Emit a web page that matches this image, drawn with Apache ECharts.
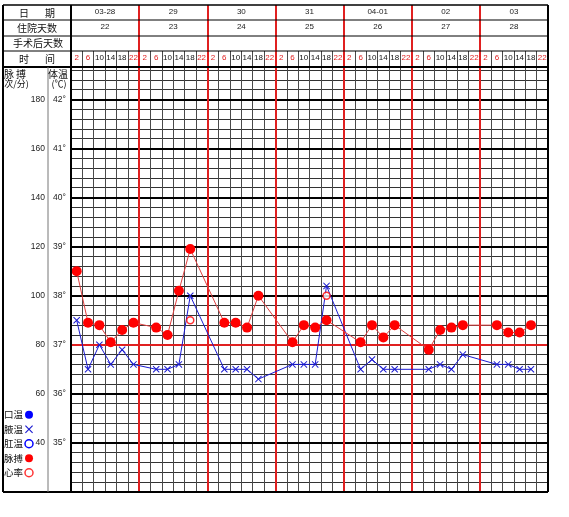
<!DOCTYPE html>
<html><head><meta charset="utf-8">
<script src="https://cdn.jsdelivr.net/npm/echarts@6/dist/echarts.min.js"></script>
<style>html,body{margin:0;padding:0;background:#fff}#c{width:569px;height:517px}</style>
</head><body><div id="c"></div>
<script>
// ---- data ----
const dates = ['03-28','29','30','31','04-01','02','03'];
const hospDays = ['22','23','24','25','26','27','28'];
const postOpDays = ['','','','','','',''];
const times = ['2','6','10','14','18','22'];
const pulse = [110,89,88,81,86,89, null,87,84,102,119,null, null,89,89,87,100,null, null,81,88,87,90,null, null,81,88,83,88,null, null,78,86,87,88,null, null,88,85,85,88,null];
const axillary = [37.5,36.5,37.0,36.6,36.9,36.6, null,36.5,36.5,36.6,38.0,null, null,36.5,36.5,36.5,36.3,null, null,36.6,36.6,36.6,38.2,null, null,36.5,36.7,36.5,36.5,null, null,36.5,36.6,36.5,36.8,null, null,36.6,36.6,36.5,36.5,null];
const heartRate = [null,null,null,null,null,null, null,null,null,null,90,null, null,null,null,null,null,null, null,null,null,null,100,null, null,null,null,null,null,null, null,null,null,null,null,null, null,null,null,null,null,null];
const oral = [];
const rectal = [];
const tempMin = 34, tempMax = 42.66;
const feverLine = 37;

// ---- build ----
const slots = [];
dates.forEach((d, i) => times.forEach(t => slots.push(i + '|' + t)));
const pulseMin = (tempMin - 33) * 20, pulseMax = (tempMax - 33) * 20;
const L = 71, R = 21;
const CJK = '"Noto Sans CJK SC", sans-serif';
const NUM = '"Liberation Sans", Arial, sans-serif';
const BLUE = '#1a1ad0', RED = '#ff0000';
const xPath = 'path://M0,1L1,0L5,4L9,0L10,1L6,5L10,9L9,10L5,6L1,10L0,9L4,5Z';

function hidden(extra) {
  return Object.assign({axisLine:{show:false}, axisTick:{show:false}, axisLabel:{show:false}, splitLine:{show:false}}, extra);
}
function grid(o){ return Object.assign({left: L, right: R, outerBoundsMode:'none', containLabel:false}, o); }

const chart = echarts.init(document.getElementById('c'));
const option = {
  animation: false,
  backgroundColor: '#fff',
  grid: [
    grid({top: 67, bottom: 25}),       // 0 chart
    grid({top: 5, height: 62}),        // 1 header (red day lines)
    grid({top: 5, height: 15}),        // 2 dates row
    grid({top: 20, height: 16}),       // 3 hospital days row
    grid({top: 51, height: 16})        // 4 times row
  ],
  xAxis: [
    hidden({type:'category', gridIndex:0, data: slots, boundaryGap:true,
      splitLine:{show:true, interval:0, lineStyle:{color:'#4a4a4a', width:1}}}),
    hidden({type:'category', gridIndex:0, data: dates, boundaryGap:true, z:3,
      splitLine:{show:true, interval:0, lineStyle:{color:'#e02020', width:2}}}),
    hidden({type:'category', gridIndex:1, data: dates, boundaryGap:true, z:3,
      splitLine:{show:true, interval:0, lineStyle:{color:'#e02020', width:2}}}),
    hidden({type:'category', gridIndex:2, data: dates, position:'top', boundaryGap:true,
      axisLabel:{show:true, inside:true, interval:0, margin:3, fontSize:8, fontFamily:NUM, color:'#222'}}),
    hidden({type:'category', gridIndex:3, data: hospDays, position:'top', boundaryGap:true,
      axisLabel:{show:true, inside:true, interval:0, margin:3, fontSize:8, fontFamily:NUM, color:'#222'}}),
    hidden({type:'category', gridIndex:4, data: slots, position:'top', boundaryGap:true,
      splitLine:{show:true, interval:0, lineStyle:{color:'#4a4a4a', width:1}},
      axisLabel:{show:true, inside:true, interval:0, margin:3, fontSize:8, fontFamily:NUM,
        formatter: v => { const t = v.split('|')[1]; return (t==='2'||t==='6'||t==='22') ? '{r|'+t+'}' : '{b|'+t+'}'; },
        rich:{r:{color:'#e02020', fontSize:8, fontFamily:NUM}, b:{color:'#111', fontSize:8, fontFamily:NUM}}}})
  ],
  yAxis: [
    hidden({type:'value', gridIndex:0, position:'left', min:tempMin, max:tempMax, interval:0.2,
      splitLine:{show:true, lineStyle:{color:'#333', width:1}}}),
    hidden({type:'value', gridIndex:0, position:'left', offset:0, min:tempMin, max:tempMax, interval:1, z:2,
      splitLine:{show:true, lineStyle:{color:'#000', width:2}},
      axisLabel:{show:true, align:'left', margin:18, fontSize:8.5, fontFamily:NUM, color:'#222',
        formatter: v => (v >= 35 && v <= 42 && Math.abs(v - Math.round(v)) < 1e-6) ? Math.round(v) + '°' : ''}}),
    hidden({type:'value', gridIndex:0, position:'left', offset:0, min:pulseMin, max:pulseMax, interval:20,
      axisLabel:{show:true, margin:26, fontSize:8.5, fontFamily:NUM, color:'#222',
        formatter: v => (v >= 40 && v <= 180 && Math.abs(v - Math.round(v)) < 1e-6) ? String(Math.round(v)) : ''}}),
    hidden({type:'value', gridIndex:1}),
    hidden({type:'value', gridIndex:2}),
    hidden({type:'value', gridIndex:3}),
    hidden({type:'value', gridIndex:4})
  ],
  legend: {
    orient:'vertical', left:4, top:410, align:'right', padding:0,
    itemWidth:8, itemHeight:8, itemGap:5,
    textStyle:{fontSize:9.5, fontFamily:CJK, color:'#111', padding:[0,-3,0,0]},
    selectedMode:false,
    data:[
      {name:'口温', icon:'circle', itemStyle:{color:'#0000ff'}},
      {name:'腋温', icon:xPath, itemStyle:{color:BLUE}},
      {name:'肛温', icon:'circle', itemStyle:{color:'#fff', borderColor:'#0000ff', borderWidth:1.5}},
      {name:'脉搏', icon:'circle', itemStyle:{color:RED}},
      {name:'心率', icon:'circle', itemStyle:{color:'#fff', borderColor:RED, borderWidth:1.5}}
    ]
  },
  series: [
    {name:'口温', type:'line', xAxisIndex:0, yAxisIndex:0, data: oral, symbol:'circle', itemStyle:{color:'#0000ff'}},
    {name:'腋温', type:'line', xAxisIndex:0, yAxisIndex:0, data: axillary, connectNulls:true,
      showSymbol:true, showAllSymbol:true,
      symbol:xPath, symbolSize:7, itemStyle:{color:BLUE}, lineStyle:{color:BLUE, width:1}, z:4,
      markLine:{silent:true, symbol:'none', label:{show:false}, z:3,
        lineStyle:{color:'#e02020', width:2, type:'solid'}, data:[{yAxis: feverLine}]}},
    {name:'肛温', type:'line', xAxisIndex:0, yAxisIndex:0, data: rectal, symbol:'emptyCircle', itemStyle:{color:'#0000ff'}},
    {name:'脉搏', type:'line', xAxisIndex:0, yAxisIndex:2, data: pulse, connectNulls:true,
      showSymbol:true, showAllSymbol:true,
      symbol:'circle', symbolSize:10, itemStyle:{color:RED}, lineStyle:{color:'#e04040', width:1}, z:5},
    {name:'心率', type:'scatter', xAxisIndex:0, yAxisIndex:2, data: heartRate,
      symbol:'circle', symbolSize:7, itemStyle:{color:'#fff', borderColor:RED, borderWidth:1.5}, z:6}
  ]
};
chart.setOption(option);

// ---- table frame & left column texts ----
const lines = [];
function ln(x1,y1,x2,y2,w,c){ lines.push({type:'line', silent:true, z:100, shape:{x1,y1,x2,y2}, style:{stroke:c||'#000', lineWidth:w||1}}); }
const xr = 569 - R;
ln(3,5,xr,5,1.5); ln(3,20,xr,20,1); ln(3,36,xr,36,1); ln(3,51,xr,51,1); ln(3,67,xr,67,2);
ln(3,492,xr,492,2);
ln(3,5,3,492,2); ln(L,5,L,492,2); ln(xr,5,xr,492,2);
ln(48,67,48,492,1,'#777');
function tx(text,x,y,size,align){ lines.push({type:'text', silent:true, z:100, style:{text, x, y, font: size+'px '+CJK, fill:'#111', align: align||'center', verticalAlign:'middle'}}); }
tx('日',24,13,10); tx('期',50,13,10);
tx('住院天数',37,28,10);
tx('手术后天数',38,43.5,10);
tx('时',24,59,10); tx('间',50,59,10);
tx('脉',9,74,10); tx('搏',21,74,10);
tx('(次/分)',15,83.5,9);
tx('体温',58,74,10);
tx('(℃)',59,83.5,9);
chart.setOption({graphic: lines});
</script></body></html>
